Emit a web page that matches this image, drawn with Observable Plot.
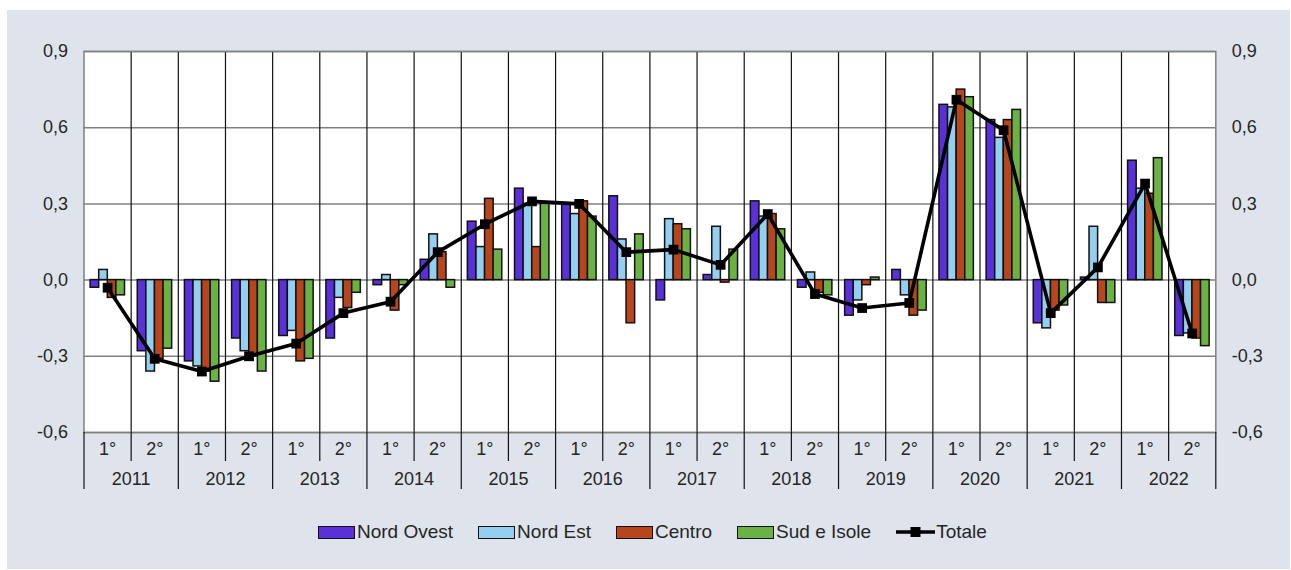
<!DOCTYPE html>
<html>
<head>
<meta charset="utf-8">
<script src="https://cdn.jsdelivr.net/npm/d3@7"></script>
<script src="https://cdn.jsdelivr.net/npm/@observablehq/plot@0.6"></script>
<style>
  html, body { margin: 0; padding: 0; background: #ffffff; }
  body { width: 1291px; height: 570px; position: relative; overflow: hidden;
         font-family: "Liberation Sans", Arial, sans-serif; }
  #bg { position: absolute; left: 7px; top: 10px; width: 1283px; height: 559px; background: #dee3ec; }
  #chart { position: absolute; left: 0; top: 0; }
  #legend { position: absolute; left: 318px; top: 521px; display: flex; align-items: center;
            gap: 25px; font-size: 19px; color: #262626; }
  .item { display: flex; align-items: center; }
  .sw { width: 37px; height: 13px; border: 1.8px solid #111; box-sizing: border-box; margin-right: 2px; }
</style>
</head>
<body>
<div id="bg"></div>
<div id="chart"></div>
<div id="legend"></div>
<script>
// ---- data ----
const years = [2011, 2012, 2013, 2014, 2015, 2016, 2017, 2018, 2019, 2020, 2021, 2022];
const halves = ["1°", "2°"];
const seriesNames = ["Nord Ovest", "Nord Est", "Centro", "Sud e Isole"];
const nordOvest = [-0.03, -0.28, -0.32, -0.23, -0.22, -0.23, -0.02, 0.08, 0.23, 0.36, 0.30, 0.33,
                   -0.08, 0.02, 0.31, -0.03, -0.14, 0.04, 0.69, 0.63, -0.17, 0.01, 0.47, -0.22];
const nordEst   = [0.04, -0.36, -0.34, -0.28, -0.20, -0.07, 0.02, 0.18, 0.13, 0.30, 0.26, 0.16,
                   0.24, 0.21, 0.25, 0.03, -0.08, -0.06, 0.68, 0.56, -0.19, 0.21, 0.36, -0.21];
const centro    = [-0.07, -0.31, -0.36, -0.30, -0.32, -0.11, -0.12, 0.11, 0.32, 0.13, 0.31, -0.17,
                   0.22, -0.01, 0.26, -0.05, -0.02, -0.14, 0.75, 0.63, -0.12, -0.09, 0.34, -0.23];
const sudIsole  = [-0.06, -0.27, -0.40, -0.36, -0.31, -0.05, -0.02, -0.03, 0.12, 0.30, 0.25, 0.18,
                   0.20, 0.12, 0.20, -0.06, 0.01, -0.12, 0.72, 0.67, -0.10, -0.09, 0.48, -0.26];
const totale    = [-0.03, -0.31, -0.36, -0.30, -0.25, -0.13, -0.085, 0.11, 0.22, 0.31, 0.30, 0.11,
                   0.12, 0.06, 0.26, -0.055, -0.11, -0.09, 0.71, 0.59, -0.13, 0.05, 0.38, -0.21];
const yTicks = [-0.6, -0.3, 0, 0.3, 0.6, 0.9];
const yTickLabels = ["-0,6", "-0,3", "0,0", "0,3", "0,6", "0,9"];

// ---- styles ----
const colors = ["#5a30d8", "#95cfef", "#b8461c", "#6bb244"];
const W = 1291, H = 500;
const mL = 83.5, mR = 75.7, mT = 51, mB = 68;
const slot = (W - mL - mR) / 24;
const gapL = 6.6, barW = 8.6;

// ---- table ----
const seriesValues = [nordOvest, nordEst, centro, sudIsole];
const rows = totale.map((t, i) => ({
  i, year: years[Math.floor(i / 2)], half: halves[i % 2], tot: t,
  vals: seriesValues.map(s => s[i])
}));

const bars = seriesValues.map((s, k) =>
  Plot.rectY(rows, {
    x1: d => d.i, x2: d => d.i + 1, y: d => d.vals[k],
    fill: colors[k], stroke: "#111", strokeWidth: 1.5,
    insetLeft: gapL + k * barW, insetRight: slot - gapL - (k + 1) * barW
  })
);

const chart = Plot.plot({
  width: W, height: H,
  marginLeft: mL, marginRight: mR, marginTop: mT, marginBottom: mB,
  x: { domain: [0, 24], axis: null },
  y: { domain: [-0.6, 0.9], axis: null },
  style: { background: "transparent", fontFamily: "'Liberation Sans', Arial, sans-serif",
           fontSize: "18px", color: "#262626" },
  marks: [
    Plot.frame({ fill: "white", stroke: "none" }),
    Plot.ruleY(yTicks, { stroke: "#808080", strokeWidth: 1.5 }),
    Plot.ruleX(d3.range(1, 24), { stroke: "#111", strokeWidth: 1.2 }),
    ...bars,
    Plot.frame({ stroke: "#808080", strokeWidth: 1.5 }),
    Plot.line(rows, { x: d => d.i + 0.5, y: "tot", stroke: "#000", strokeWidth: 3.6 }),
    Plot.dot(rows, { x: d => d.i + 0.5, y: "tot", symbol: "square", r: 5.5, fill: "#000" }),
    // bottom category axis structure
    Plot.axisX(d3.range(1, 24, 2), { anchor: "bottom", tickSize: 29, tickFormat: () => "", label: null, stroke: "#111", strokeWidth: 1.2 }),
    Plot.axisX(d3.range(0, 25, 2), { anchor: "bottom", tickSize: 57, tickFormat: () => "", label: null, stroke: "#111", strokeWidth: 1.2 }),
    Plot.axisX(rows.map(d => d.i + 0.5), { anchor: "bottom", tickSize: 0, tickPadding: 10, label: null,
      tickFormat: v => halves[Math.floor(v) % 2], fontSize: 18, fill: "#262626" }),
    Plot.axisX(years.map((y, j) => 2 * j + 1), { anchor: "bottom", tickSize: 0, tickPadding: 40, label: null,
      tickFormat: v => String(years[(v - 1) / 2]), fontSize: 18, fill: "#262626" }),
    Plot.axisY(yTicks, { anchor: "left", tickSize: 0, tickPadding: 16, label: null,
      tickFormat: v => yTickLabels[yTicks.indexOf(v)], fontSize: 18, fill: "#262626" }),
    Plot.axisY(yTicks, { anchor: "right", tickSize: 0, tickPadding: 16, label: null,
      tickFormat: v => yTickLabels[yTicks.indexOf(v)], fontSize: 18, fill: "#262626" })
  ]
});
document.getElementById("chart").appendChild(chart);

// ---- legend ----
const legend = document.getElementById("legend");
seriesNames.forEach((name, k) => {
  const it = document.createElement("div");
  it.className = "item";
  it.innerHTML = `<div class="sw" style="background:${colors[k]}"></div><span>${name}</span>`;
  legend.appendChild(it);
});
const tot = document.createElement("div");
tot.className = "item";
tot.innerHTML = `<svg width="39" height="14" style="margin-right:1px"><line x1="0" x2="39" y1="7" y2="7" stroke="#000" stroke-width="3.6"/><rect x="14.5" y="2" width="10" height="10" fill="#000"/></svg><span>Totale</span>`;
legend.appendChild(tot);
</script>
</body>
</html>
